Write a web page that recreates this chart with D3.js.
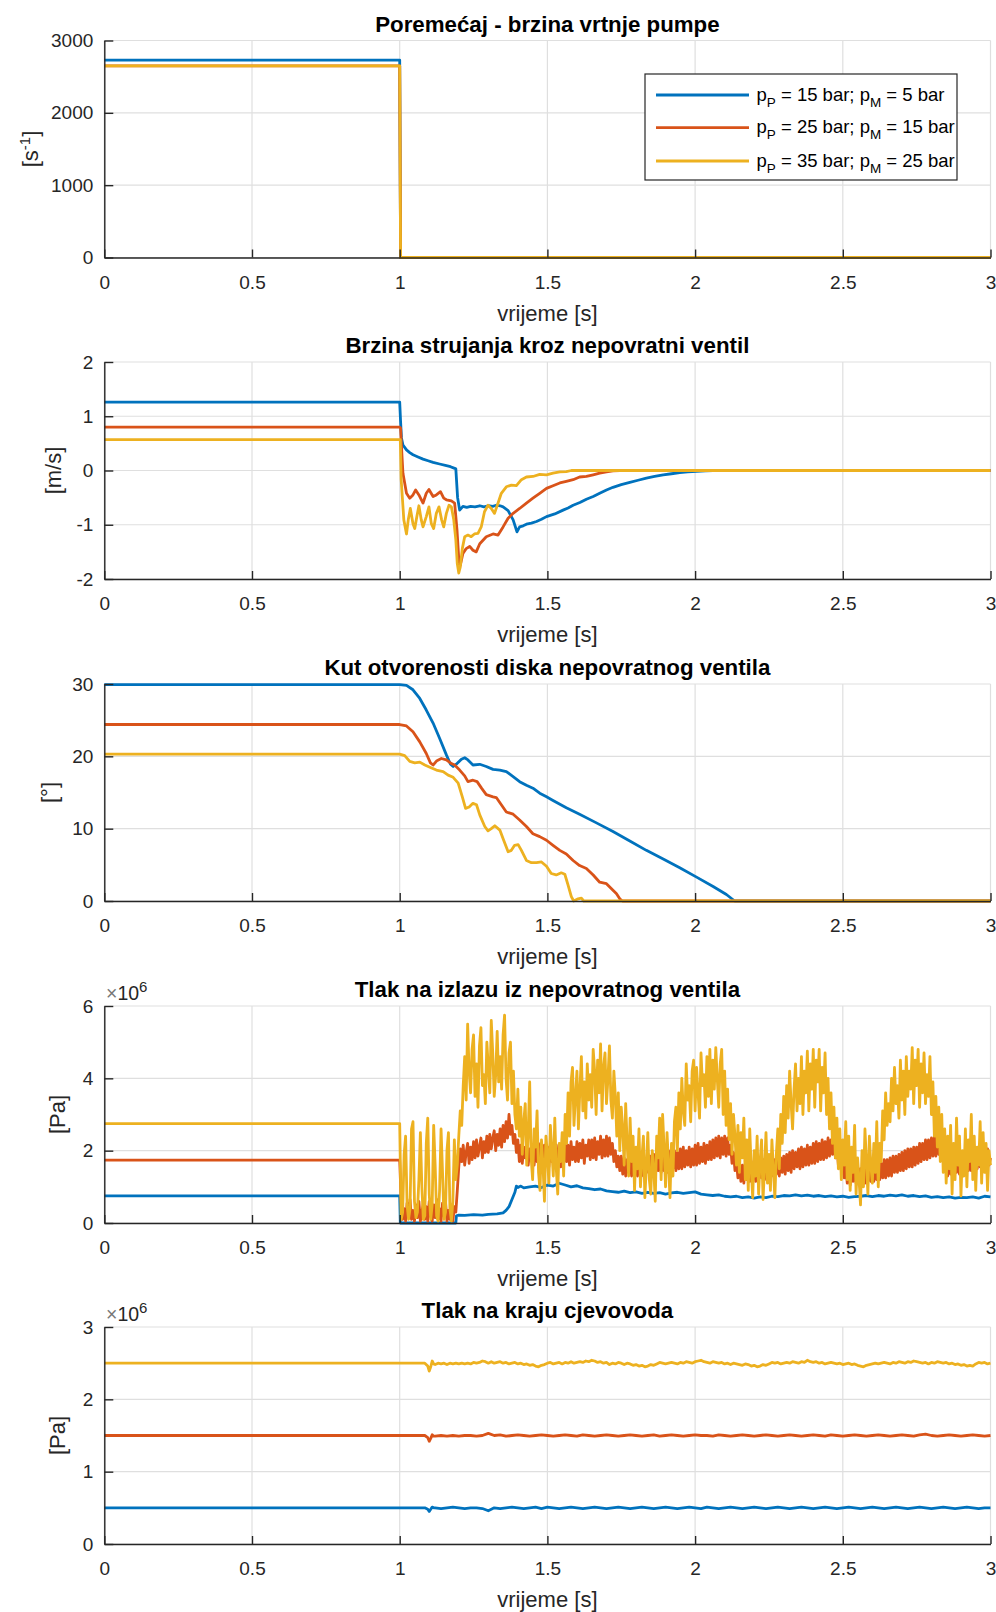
<!DOCTYPE html>
<html><head><meta charset="utf-8">
<script src="https://cdn.jsdelivr.net/npm/d3@7"></script>
<style>
body{margin:0;background:#fff}
svg{display:block}
text{font-family:"Liberation Sans",Arial,Helvetica,sans-serif}
</style>
</head><body>
<svg id="c" width="996" height="1612"></svg>
<script>
// ---------------- DATA ----------------
const xTickVals = [0, 0.5, 1, 1.5, 2, 2.5, 3];
const legendLabels = [
  ["15", "5"],
  ["25", "15"],
  ["35", "25"]
];
const titles = [
  "Poremećaj - brzina vrtnje pumpe",
  "Brzina strujanja kroz nepovratni ventil",
  "Kut otvorenosti diska nepovratnog ventila",
  "Tlak na izlazu iz nepovratnog ventila",
  "Tlak na kraju cjevovoda"
];
const yTicks1 = [0, 1000, 2000, 3000];
const yTicks2 = [-2, -1, 0, 1, 2];
const yTicks3 = [0, 10, 20, 30];
const yTicks4 = [0, 2, 4, 6];
const yTicks5 = [0, 1, 2, 3];

// Plot 1: pump speed [1/s]
const pumpBlue = [[0,2730],[1,2730],[1.003,0],[3,0]];
const pumpRed = [[0,2650],[1,2650],[1.003,0],[3,0]];
const pumpYellow = [[0,2650],[1,2650],[1.003,0],[3,0]];

// Plot 2: velocity [m/s]
const velBlue = [[0,1.26],[1.0,1.26],[1.003,0.9],[1.006,0.6],[1.011,0.47],[1.023,0.38],[1.034,0.33],[1.045,0.29],[1.062,0.25],[1.079,0.21],[1.096,0.18],[1.113,0.15],[1.135,0.12],[1.158,0.09],[1.172,0.07],[1.186,0.04],[1.190,0.03],[1.196,-0.5],[1.203,-0.73],[1.214,-0.66],[1.227,-0.68],[1.24,-0.66],[1.255,-0.67],[1.271,-0.65],[1.285,-0.67],[1.30,-0.65],[1.315,-0.66],[1.327,-0.64],[1.34,-0.65],[1.35,-0.67],[1.367,-0.74],[1.384,-0.91],[1.397,-1.13],[1.406,-1.04],[1.418,-1.02],[1.429,-0.99],[1.446,-0.97],[1.463,-0.94],[1.48,-0.90],[1.497,-0.85],[1.525,-0.80],[1.553,-0.73],[1.57,-0.69],[1.587,-0.64],[1.61,-0.59],[1.632,-0.53],[1.655,-0.48],[1.677,-0.42],[1.70,-0.36],[1.722,-0.31],[1.75,-0.26],[1.779,-0.22],[1.807,-0.18],[1.835,-0.14],[1.863,-0.11],[1.892,-0.08],[1.92,-0.06],[1.948,-0.04],[1.975,-0.025],[2.005,-0.015],[2.035,-0.005],[2.061,0],[3,0]];
const velRed = [[0,0.80],[1.0,0.80],[1.003,0.78],[1.006,0.44],[1.011,-0.05],[1.023,-0.42],[1.034,-0.51],[1.045,-0.45],[1.054,-0.36],[1.065,-0.45],[1.079,-0.60],[1.090,-0.42],[1.099,-0.35],[1.113,-0.48],[1.124,-0.45],[1.138,-0.39],[1.149,-0.51],[1.158,-0.54],[1.175,-0.56],[1.186,-0.60],[1.194,-1.10],[1.201,-1.72],[1.205,-1.75],[1.214,-1.53],[1.225,-1.44],[1.237,-1.40],[1.248,-1.47],[1.259,-1.50],[1.271,-1.35],[1.293,-1.22],[1.316,-1.17],[1.333,-1.19],[1.350,-1.04],[1.367,-0.88],[1.384,-0.79],[1.406,-0.70],[1.429,-0.60],[1.451,-0.51],[1.474,-0.42],[1.497,-0.33],[1.519,-0.28],[1.542,-0.23],[1.564,-0.20],[1.587,-0.17],[1.609,-0.12],[1.632,-0.11],[1.655,-0.08],[1.677,-0.05],[1.700,-0.025],[1.722,-0.006],[1.745,0],[3,0]];
const velYellow = [[0,0.57],[1.0,0.57],[1.002,0.57],[1.005,-0.17],[1.014,-0.91],[1.023,-1.17],[1.029,-0.91],[1.036,-0.70],[1.045,-0.98],[1.051,-1.07],[1.059,-0.82],[1.065,-0.65],[1.073,-0.91],[1.079,-1.04],[1.090,-0.85],[1.099,-0.67],[1.107,-0.98],[1.115,-1.07],[1.124,-0.79],[1.133,-0.67],[1.142,-0.91],[1.149,-1.04],[1.158,-0.79],[1.167,-0.64],[1.175,-0.67],[1.183,-0.91],[1.190,-1.28],[1.195,-1.72],[1.200,-1.89],[1.205,-1.78],[1.212,-1.44],[1.220,-1.22],[1.231,-1.19],[1.242,-1.22],[1.253,-1.17],[1.265,-1.16],[1.276,-1.04],[1.287,-0.76],[1.299,-0.64],[1.310,-0.70],[1.321,-0.79],[1.333,-0.60],[1.344,-0.42],[1.361,-0.30],[1.378,-0.27],[1.395,-0.28],[1.412,-0.17],[1.429,-0.12],[1.451,-0.11],[1.474,-0.07],[1.497,-0.08],[1.519,-0.05],[1.542,-0.025],[1.564,-0.02],[1.581,0],[3,0]];

// Plot 3: disc angle [deg]
const angBlue = [[0,29.9],[1.0,29.9],[1.023,29.8],[1.045,29.2],[1.068,28.0],[1.090,26.4],[1.113,24.6],[1.135,22.5],[1.158,20.2],[1.172,18.9],[1.181,18.6],[1.194,19.0],[1.209,19.6],[1.220,19.8],[1.231,19.5],[1.248,18.8],[1.271,18.9],[1.293,18.6],[1.316,18.2],[1.339,18.1],[1.361,17.9],[1.384,17.2],[1.406,16.5],[1.429,16.0],[1.451,15.6],[1.474,14.9],[1.497,14.4],[1.519,13.9],[1.564,12.9],[1.609,12.0],[1.666,10.8],[1.722,9.6],[1.779,8.3],[1.835,7.0],[1.892,5.8],[1.948,4.6],[2.005,3.3],[2.061,2.0],[2.106,0.9],[2.134,0],[3,0]];
const angRed = [[0,24.4],[1.0,24.4],[1.023,24.2],[1.045,23.4],[1.068,22.0],[1.090,20.4],[1.104,19.1],[1.113,18.8],[1.126,19.4],[1.141,19.7],[1.158,19.5],[1.175,19.0],[1.186,18.8],[1.203,18.1],[1.220,17.3],[1.231,16.5],[1.248,16.7],[1.262,16.5],[1.277,15.6],[1.293,14.7],[1.316,14.4],[1.327,14.3],[1.344,13.3],[1.361,12.3],[1.384,12.0],[1.406,11.2],[1.429,10.3],[1.451,9.3],[1.474,8.9],[1.497,8.4],[1.519,7.7],[1.542,7.0],[1.564,6.5],[1.587,5.6],[1.609,4.9],[1.632,4.5],[1.655,3.6],[1.677,2.6],[1.700,2.4],[1.717,1.7],[1.734,1.0],[1.745,0.3],[1.754,0],[3,0]];
const angYellow = [[0,20.3],[1.0,20.3],[1.017,20.1],[1.034,19.3],[1.051,19.1],[1.068,19.2],[1.085,18.8],[1.102,18.5],[1.124,18.1],[1.147,17.9],[1.164,17.4],[1.181,17.1],[1.198,16.3],[1.212,14.4],[1.223,12.8],[1.235,13.0],[1.248,13.5],[1.260,13.3],[1.271,11.9],[1.288,10.3],[1.299,9.7],[1.310,10.0],[1.322,10.4],[1.339,9.8],[1.352,8.4],[1.367,6.8],[1.378,7.0],[1.389,7.7],[1.401,7.8],[1.412,7.0],[1.429,5.6],[1.446,5.3],[1.463,5.3],[1.480,5.4],[1.497,4.8],[1.513,3.8],[1.530,3.6],[1.547,3.9],[1.559,3.7],[1.570,2.2],[1.581,0.6],[1.589,0],[1.604,0.3],[1.615,0.4],[1.623,0],[3,0]];

// Plot 4: valve outlet pressure [x1e6 Pa]; dense samples every 0.005 s from t = 1.000
const outPre = [0.75, 1.74, 2.75];   // blue, red, yellow before t = 1 s
const outBlue = [[0,0.75],[1.0,0.75],[1.002,0.0],[1.19,0.0],[1.192,0.20],[1.20,0.22],[1.22,0.21],[1.25,0.23],[1.28,0.22],[1.30,0.24],[1.33,0.25],[1.35,0.28],[1.36,0.35],[1.37,0.45],[1.38,0.65],[1.39,0.85],[1.395,1.02],[1.40,0.98],[1.41,1.02],[1.42,0.97],[1.44,1.00],[1.46,1.02],[1.48,0.98],[1.50,1.05],[1.52,1.02],[1.54,1.10],[1.56,1.05],[1.58,1.00],[1.60,1.03],[1.62,0.97],[1.64,0.95],[1.66,0.92],[1.68,0.94],[1.70,0.89],[1.72,0.87],[1.74,0.85],[1.76,0.88],[1.78,0.84],[1.80,0.86],[1.82,0.82],[1.84,0.85],[1.86,0.82],[1.88,0.84],[1.90,0.80],[1.92,0.83],[1.94,0.85],[1.96,0.82],[1.98,0.84],[2.00,0.86],[2.02,0.80],[2.04,0.78],[2.06,0.76],[2.08,0.78],[2.10,0.74],[2.12,0.72],[2.14,0.74],[2.16,0.70],[2.18,0.72],[2.20,0.69],[2.22,0.72],[2.24,0.70],[2.26,0.74],[2.28,0.73],[2.30,0.76],[2.32,0.75],[2.34,0.78],[2.36,0.75],[2.38,0.77],[2.40,0.74],[2.42,0.76],[2.44,0.73],[2.46,0.75],[2.48,0.72],[2.50,0.74],[2.52,0.71],[2.54,0.73],[2.56,0.74],[2.58,0.76],[2.60,0.73],[2.62,0.76],[2.64,0.74],[2.66,0.77],[2.68,0.75],[2.70,0.78],[2.72,0.74],[2.74,0.76],[2.76,0.73],[2.78,0.75],[2.80,0.71],[2.82,0.73],[2.84,0.70],[2.86,0.72],[2.88,0.69],[2.90,0.71],[2.92,0.70],[2.94,0.72],[2.96,0.69],[2.98,0.74],[3.00,0.72]];
const outRed = [
1.74,0.60,0.10,0.40,0.05,0.55,0.20,0.65,0.10,0.35,
0.05,0.50,0.15,0.60,0.05,0.30,0.55,0.10,0.45,0.05,
0.60,0.20,0.05,0.50,0.15,0.65,0.10,0.40,0.05,0.55,
0.20,0.60,0.05,0.35,0.10,0.50,0.05,0.45,0.30,0.90,
1.55,2.05,1.70,2.15,1.60,1.95,2.20,1.65,2.10,1.75,
2.25,1.80,2.30,1.85,2.10,2.35,1.80,2.25,1.95,2.40,
1.95,2.45,2.05,2.35,2.55,2.00,2.45,2.15,2.60,2.10,
2.70,2.25,2.80,2.35,3.00,2.45,2.70,2.20,2.45,1.95,
2.30,1.70,2.15,1.65,2.10,1.80,2.20,1.60,2.05,1.75,
2.15,1.60,2.10,1.70,2.20,1.55,2.05,1.75,2.15,1.60,
2.10,1.55,2.20,1.70,2.00,1.60,2.15,1.75,2.05,1.55,
2.10,1.65,2.20,1.70,2.15,1.60,2.25,1.75,2.10,1.70,
2.25,1.70,2.20,1.80,2.30,1.65,2.15,1.85,2.30,1.75,
2.30,1.80,2.35,1.75,2.25,1.90,2.40,1.80,2.30,1.85,
2.40,1.85,2.35,1.90,2.20,1.70,2.00,1.55,1.85,1.45,
1.85,1.35,1.80,1.30,1.75,1.40,1.85,1.30,1.75,1.35,
1.85,1.30,1.80,1.40,1.85,1.30,1.75,1.40,1.90,1.35,
1.85,1.40,1.90,1.35,1.85,1.45,1.95,1.40,1.90,1.45,
1.95,1.40,2.00,1.45,1.90,1.50,2.00,1.45,1.95,1.50,
2.05,1.50,2.10,1.55,2.00,1.60,2.10,1.55,2.05,1.60,
2.15,1.60,2.20,1.65,2.10,1.70,2.20,1.65,2.15,1.75,
2.25,1.75,2.30,1.80,2.35,1.85,2.40,1.80,2.35,1.90,
2.40,1.85,2.35,1.90,2.15,1.65,1.95,1.45,1.70,1.25,
1.65,1.15,1.60,1.10,1.65,1.20,1.60,1.15,1.70,1.20,
1.65,1.15,1.70,1.20,1.65,1.25,1.75,1.20,1.70,1.25,
1.75,1.25,1.80,1.30,1.75,1.35,1.85,1.30,1.80,1.40,
1.85,1.35,1.90,1.45,1.95,1.40,2.00,1.50,1.95,1.55,
2.05,1.50,2.10,1.55,2.05,1.60,2.15,1.60,2.10,1.65,
2.20,1.65,2.25,1.70,2.20,1.75,2.30,1.75,2.25,1.80,
2.35,1.85,2.30,1.90,2.40,1.80,2.15,1.60,1.90,1.45,
1.75,1.25,1.60,1.10,1.55,1.05,1.50,1.15,1.55,1.10,
1.55,1.05,1.50,1.10,1.60,1.10,1.55,1.15,1.60,1.15,
1.60,1.15,1.65,1.20,1.70,1.20,1.65,1.25,1.75,1.25,
1.75,1.30,1.80,1.30,1.85,1.40,1.85,1.40,1.90,1.45,
1.95,1.45,2.00,1.50,2.05,1.55,2.05,1.55,2.10,1.60,
2.10,1.65,2.20,1.70,2.20,1.75,2.30,1.75,2.30,1.80,
2.35,1.85,2.40,1.85,2.35,1.90,2.20,1.75,1.95,1.50,
1.80,1.30,1.75,1.35,1.85,1.30,1.80,1.40,1.85,1.35,
1.85,1.40,1.90,1.35,1.95,1.45,1.90,1.45,2.00,1.45,
1.95,1.50,2.00,1.55,2.05,1.50,2.10,1.55,2.05,1.60,
1.80];
const outYellow = [
2.75,0.10,0.30,1.90,2.40,0.50,0.10,0.40,2.60,2.80,
0.60,0.15,0.30,1.20,2.50,1.00,0.10,0.20,2.20,2.90,
0.80,0.10,0.50,2.70,1.60,0.20,0.05,0.90,2.60,1.40,
0.10,0.30,2.00,2.50,0.40,0.05,0.60,2.30,1.20,1.60,
2.40,3.10,2.70,3.80,4.60,3.40,5.50,4.20,3.60,4.80,
5.20,3.50,4.40,3.20,4.90,5.40,3.80,4.10,3.30,5.00,
4.30,3.60,5.60,4.70,3.50,4.10,5.30,3.90,4.60,3.70,
5.20,5.75,4.00,3.40,4.70,5.00,3.30,4.20,3.00,2.60,
3.70,2.40,3.20,1.90,2.80,3.30,1.60,2.50,3.90,1.80,
1.20,2.60,2.10,3.10,1.40,0.90,2.30,1.60,0.60,2.40,
1.90,1.10,2.70,2.00,1.30,2.90,1.50,0.80,2.20,1.70,
2.50,1.30,3.00,2.20,3.60,2.40,3.90,4.30,2.70,3.50,
4.20,2.60,3.70,4.60,3.10,3.90,2.90,4.40,3.40,4.10,
3.20,4.80,4.20,3.00,4.50,3.60,4.95,3.10,4.30,4.70,
3.30,4.00,4.90,3.40,2.90,4.20,3.50,2.40,3.60,2.00,
3.20,2.60,1.60,3.30,2.20,1.30,2.90,1.70,2.40,0.90,
2.10,1.50,2.60,1.00,1.80,2.40,0.70,1.60,2.50,1.20,
0.80,2.00,1.50,0.60,2.40,1.80,2.90,1.20,3.00,2.10,
1.00,2.50,1.60,0.70,2.20,1.30,2.80,3.20,2.00,3.60,
2.60,4.00,3.10,2.70,4.40,3.40,3.80,2.80,4.20,4.50,
3.10,4.30,3.60,2.90,4.70,3.80,4.10,3.20,4.60,3.50,
4.80,3.30,4.50,3.70,4.85,4.00,3.20,4.40,4.80,3.00,
4.20,2.70,3.70,2.30,3.30,1.90,3.00,2.40,1.60,2.70,
1.40,2.50,1.80,2.90,1.20,2.30,0.90,2.60,1.50,0.70,
2.00,1.30,2.40,0.80,1.70,2.30,0.65,1.50,2.50,1.10,
1.90,0.90,2.30,1.50,0.70,1.90,2.60,1.50,3.00,2.20,
3.50,2.50,3.80,2.90,4.20,3.30,2.60,3.70,4.40,3.10,
4.00,3.30,4.60,3.00,4.20,3.60,4.75,3.10,4.40,3.70,
4.80,3.20,4.50,3.90,4.80,3.10,4.30,3.60,4.70,3.00,
4.00,2.60,3.60,2.20,3.20,1.80,2.90,1.50,2.60,1.20,
2.30,1.60,2.80,1.20,2.40,0.90,2.10,1.40,2.70,0.80,
1.80,1.20,0.50,2.00,1.00,2.60,1.70,0.80,2.40,1.60,
1.10,2.20,1.40,2.80,1.00,2.20,1.70,3.10,2.30,3.60,
2.70,3.30,2.80,4.00,3.10,4.30,3.30,3.80,2.90,4.50,
3.40,4.20,3.00,4.60,3.50,4.20,3.70,4.85,3.30,4.50,
3.80,4.80,3.20,4.40,3.60,4.70,3.30,4.10,3.50,4.60,
3.00,3.90,2.40,3.50,2.10,3.20,1.70,3.00,1.40,2.60,
1.10,2.40,1.50,2.70,0.80,2.20,1.20,2.90,1.60,2.40,
0.75,2.00,1.30,2.60,1.00,2.30,1.70,3.00,1.20,2.40,
0.90,2.10,1.60,2.80,1.10,2.50,1.40,2.20,0.90,2.00,
1.60];

// Plot 5: pressure at pipeline end [x1e6 Pa]
const endBlueHead = [[0,0.50],[1.085,0.50],[1.095,0.48],[1.10,0.45],[1.105,0.48],[1.11,0.51],[1.115,0.50]];
const endRedHead = [[0,1.50],[1.085,1.50],[1.095,1.47],[1.10,1.42],[1.105,1.46],[1.11,1.51],[1.115,1.49]];
const endYellowHead = [[0,2.50],[1.085,2.50],[1.095,2.46],[1.10,2.39],[1.105,2.45],[1.11,2.53],[1.115,2.49]];
// every 0.02 s from t = 1.12
const endBlue = [
0.50,0.49,0.50,0.51,0.50,0.49,0.50,0.50,0.49,0.46,
0.50,0.49,0.50,0.51,0.50,0.49,0.50,0.51,0.49,0.51,
0.50,0.49,0.50,0.51,0.50,0.49,0.50,0.51,0.50,0.49,
0.50,0.51,0.50,0.49,0.50,0.51,0.50,0.49,0.50,0.51,
0.50,0.49,0.50,0.51,0.50,0.49,0.51,0.50,0.49,0.50,
0.51,0.50,0.49,0.50,0.51,0.50,0.49,0.50,0.51,0.50,
0.49,0.50,0.51,0.50,0.49,0.50,0.51,0.50,0.49,0.50,
0.51,0.50,0.49,0.50,0.51,0.50,0.49,0.50,0.51,0.50,
0.49,0.50,0.51,0.50,0.49,0.50,0.51,0.50,0.49,0.50,
0.51,0.50,0.49,0.50,0.50];
const endRed = [
1.49,1.50,1.49,1.50,1.49,1.50,1.50,1.49,1.50,1.53,
1.50,1.51,1.49,1.50,1.51,1.50,1.49,1.50,1.51,1.50,
1.49,1.50,1.51,1.50,1.49,1.51,1.50,1.49,1.50,1.51,
1.50,1.49,1.50,1.51,1.50,1.49,1.50,1.51,1.49,1.50,
1.51,1.50,1.49,1.50,1.51,1.50,1.50,1.49,1.51,1.50,
1.49,1.50,1.51,1.50,1.49,1.50,1.51,1.50,1.49,1.50,
1.51,1.50,1.49,1.50,1.51,1.50,1.49,1.51,1.50,1.49,
1.50,1.51,1.50,1.49,1.50,1.51,1.50,1.49,1.50,1.51,
1.50,1.49,1.51,1.52,1.50,1.49,1.50,1.51,1.50,1.49,
1.50,1.51,1.50,1.49,1.50];
// every 0.01 s from t = 1.12
const endYellow = [
2.48,2.50,2.49,2.50,2.48,2.50,2.49,2.50,2.49,2.50,
2.49,2.50,2.49,2.51,2.50,2.51,2.53,2.52,2.50,2.52,
2.50,2.51,2.52,2.50,2.51,2.49,2.50,2.51,2.49,2.50,
2.48,2.49,2.47,2.48,2.46,2.45,2.47,2.48,2.50,2.51,
2.49,2.50,2.51,2.49,2.51,2.50,2.52,2.50,2.51,2.52,
2.51,2.53,2.52,2.54,2.53,2.51,2.52,2.50,2.51,2.48,
2.50,2.49,2.51,2.50,2.48,2.50,2.49,2.47,2.48,2.46,
2.47,2.45,2.46,2.48,2.47,2.49,2.51,2.50,2.49,2.50,
2.51,2.50,2.49,2.51,2.50,2.52,2.51,2.50,2.52,2.53,
2.54,2.52,2.51,2.50,2.52,2.51,2.50,2.51,2.49,2.50,
2.48,2.50,2.49,2.48,2.47,2.49,2.48,2.46,2.47,2.45,
2.46,2.48,2.47,2.49,2.51,2.50,2.51,2.49,2.50,2.51,
2.50,2.52,2.51,2.50,2.52,2.51,2.54,2.52,2.51,2.52,
2.50,2.51,2.49,2.50,2.51,2.50,2.49,2.50,2.48,2.49,
2.50,2.48,2.49,2.47,2.46,2.45,2.47,2.48,2.49,2.50,
2.49,2.50,2.51,2.50,2.49,2.51,2.50,2.52,2.51,2.50,
2.52,2.51,2.53,2.52,2.51,2.50,2.51,2.49,2.51,2.50,
2.52,2.51,2.50,2.51,2.49,2.50,2.48,2.49,2.47,2.48,
2.46,2.47,2.46,2.49,2.51,2.50,2.51,2.49,2.50];

// ---------------- BUILD SERIES ----------------
const dense = (arr, t0, dt) => arr.map((v, i) => [t0 + i * dt, v]);
const series4 = [
  outBlue,
  [[0, outPre[1]]].concat(dense(outRed, 1.0, 0.005)),
  [[0, outPre[2]]].concat(dense(outYellow, 1.0, 0.005))
];
const series5 = [
  endBlueHead.concat(dense(endBlue, 1.12, 0.02)),
  endRedHead.concat(dense(endRed, 1.12, 0.02)),
  endYellowHead.concat(dense(endYellow, 1.12, 0.01))
];

// ---------------- DRAW ----------------
const colors = ["#0072BD", "#D95319", "#EDB120"];
const axisColor = "#262626";
const gridColor = "#dfdfdf";
const svg = d3.select("#c");
const xLeft = 104.3, xRight = 990.5, panelH = 217;
const x = d3.scaleLinear().domain([0, 3]).range([xLeft, xRight]);

const panels = [
  {top: 40.5, domain: [0, 3000], ticks: yTicks1, series: [pumpBlue, pumpRed, pumpYellow], ylab: "s", ylx: 31},
  {top: 362, domain: [-2, 2], ticks: yTicks2, series: [velBlue, velRed, velYellow], ylab: "[m/s]", ylx: 54},
  {top: 684, domain: [0, 30], ticks: yTicks3, series: [angBlue, angRed, angYellow], ylab: "[°]", ylx: 50},
  {top: 1006, domain: [0, 6], ticks: yTicks4, series: series4, ylab: "[Pa]", ylx: 58, exp: true},
  {top: 1327, domain: [0, 3], ticks: yTicks5, series: series5, ylab: "[Pa]", ylx: 58, exp: true}
];

panels.forEach((p, i) => {
  const top = p.top, bottom = top + panelH;
  const y = d3.scaleLinear().domain(p.domain).range([bottom, top]);
  const g = svg.append("g");

  // grid
  g.append("g").selectAll("line").data(xTickVals).join("line")
    .attr("x1", d => x(d)).attr("x2", d => x(d))
    .attr("y1", top).attr("y2", bottom)
    .attr("stroke", gridColor).attr("stroke-width", 1.2);
  g.append("g").selectAll("line").data(p.ticks).join("line")
    .attr("x1", xLeft).attr("x2", xRight)
    .attr("y1", d => y(d)).attr("y2", d => y(d))
    .attr("stroke", gridColor).attr("stroke-width", 1.2);

  // lines
  const line = d3.line().x(d => x(d[0])).y(d => y(d[1]));
  p.series.forEach((s, k) => {
    g.append("path").attr("d", line(s))
      .attr("fill", "none").attr("stroke", colors[k])
      .attr("stroke-width", 2.8)
      .attr("stroke-linejoin", "round").attr("stroke-linecap", "butt");
  });

  // axes
  const ax = g.append("g").attr("transform", `translate(0,${bottom})`)
    .call(d3.axisBottom(x).tickValues(xTickVals).tickFormat(d => String(d))
      .tickSizeInner(-8).tickSizeOuter(0).tickPadding(18));
  const ay = g.append("g").attr("transform", `translate(${xLeft},0)`)
    .call(d3.axisLeft(y).tickValues(p.ticks).tickFormat(d => String(d))
      .tickSizeInner(-9).tickSizeOuter(0).tickPadding(11));
  [ax, ay].forEach(a => {
    a.attr("font-family", null).attr("font-size", null);
    a.select(".domain").attr("stroke", axisColor).attr("stroke-width", 1.4);
    a.selectAll(".tick line").attr("stroke", axisColor).attr("stroke-width", 1.4);
    a.selectAll(".tick text").attr("fill", axisColor)
      .style("font-size", "19px");
  });

  // title
  g.append("text").attr("x", (xLeft + xRight) / 2).attr("y", top - 9)
    .attr("text-anchor", "middle").style("font-size", "22.3px").style("font-weight", "bold")
    .attr("fill", "#000").text(titles[i]);

  // x label
  g.append("text").attr("x", (xLeft + xRight) / 2).attr("y", bottom + 63)
    .attr("text-anchor", "middle").style("font-size", "22px")
    .attr("fill", axisColor).text("vrijeme [s]");

  // y label
  const yl = g.append("text")
    .attr("transform", `translate(${p.ylx},${(top + bottom) / 2}) rotate(-90)`)
    .attr("text-anchor", "middle").attr("dy", "0.32em")
    .style("font-size", "22px").attr("fill", axisColor);
  if (i === 0) {
    yl.append("tspan").text("[s");
    yl.append("tspan").attr("dy", "-8").style("font-size", "15px").text("-1");
    yl.append("tspan").attr("dy", "8").text("]");
  } else {
    yl.text(p.ylab);
  }

  // exponent
  if (p.exp) {
    const ex = g.append("text").attr("x", 106).attr("y", top - 6)
      .style("font-size", "19.5px").attr("fill", axisColor);
    ex.append("tspan").attr("fill", "#777").text("×");
    ex.append("tspan").text("10");
    ex.append("tspan").attr("dy", "-8").style("font-size", "15px").text("6");
  }
});

// legend (first panel)
const lg = svg.append("g");
lg.append("rect").attr("x", 645).attr("y", 74).attr("width", 312).attr("height", 106)
  .attr("fill", "#fff").attr("stroke", axisColor).attr("stroke-width", 1.2);
const legY = [95, 127.7, 161];
legendLabels.forEach((lab, k) => {
  lg.append("line").attr("x1", 656).attr("x2", 749).attr("y1", legY[k]).attr("y2", legY[k])
    .attr("stroke", colors[k]).attr("stroke-width", 2.8);
  const t = lg.append("text").attr("x", 756.5).attr("y", legY[k] + 5.5)
    .style("font-size", "18.5px").attr("fill", "#000");
  t.append("tspan").text("p");
  t.append("tspan").attr("dy", "6").style("font-size", "13.5px").text("P");
  t.append("tspan").attr("dy", "-6").text(" = " + lab[0] + " bar; p");
  t.append("tspan").attr("dy", "6").style("font-size", "13.5px").text("M");
  t.append("tspan").attr("dy", "-6").text(" = " + lab[1] + " bar");
});
</script>
</body></html>
